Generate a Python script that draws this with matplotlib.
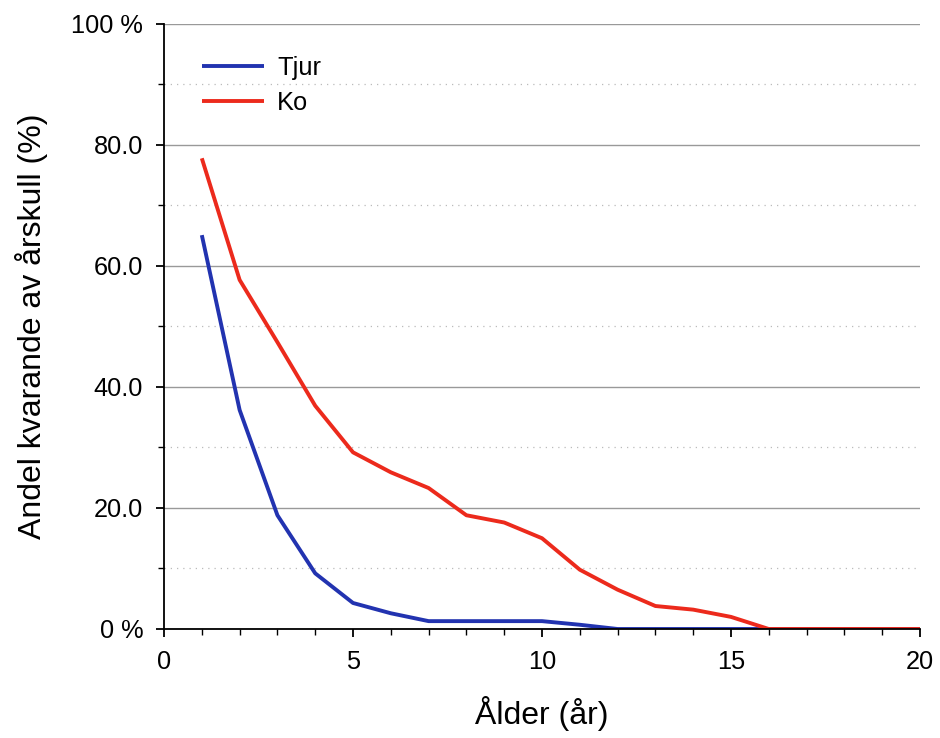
import numpy as np
import matplotlib
matplotlib.use("Agg")
import matplotlib.pyplot as plt
from matplotlib.ticker import MultipleLocator

plt.rcParams['font.family'] = ['Liberation Sans', 'DejaVu Sans']

age = [1, 2, 3, 4, 5, 6, 7, 8, 9, 10, 11, 12, 13, 14, 15, 16, 17, 18, 19, 20]
tjur = [65.1, 36.2, 18.8, 9.2, 4.3, 2.6, 1.3, 1.3, 1.3, 1.3, 0.7, 0, 0, 0, 0, 0, 0, 0, 0, 0]
ko = [77.8, 57.7, 47.4, 36.9, 29.2, 25.9, 23.3, 18.8, 17.6, 15.0, 9.8, 6.5, 3.8, 3.2, 2.0, 0, 0, 0, 0, 0]

ytick_vals = [0, 20, 40, 60, 80, 100]
ytick_labels = ["0 %", "20.0", "40.0", "60.0", "80.0", "100 %"]

fig = plt.figure(figsize=(9.4, 7.38), dpi=100)
ax = fig.add_axes([0.1745, 0.1477, 0.8042, 0.8198])

ax.plot(age, tjur, color="#2233b0", lw=2.8, label="Tjur", solid_capstyle="butt")
ax.plot(age, ko, color="#ec2a1c", lw=2.8, label="Ko", solid_capstyle="butt")

ax.set_xlim(0, 20)
ax.set_ylim(0, 100)
ax.set_yticks(ytick_vals)
ax.set_yticklabels(ytick_labels)
ax.yaxis.set_minor_locator(MultipleLocator(10))
ax.xaxis.set_major_locator(MultipleLocator(5))
ax.xaxis.set_minor_locator(MultipleLocator(1))

ax.grid(which="major", axis="y", color="#999999", lw=1.0, ls="-")
ax.grid(which="minor", axis="y", color="#bbbbbb", lw=0.9, ls=(0, (1, 4)))
ax.set_axisbelow(True)

for s in ["top", "right"]:
    ax.spines[s].set_visible(False)
ax.spines["left"].set_linewidth(1.3)
ax.spines["bottom"].set_linewidth(1.3)

ax.tick_params(which="major", direction="out", length=6, width=1.3, labelsize=18.3, pad=9)
ax.tick_params(which="minor", direction="out", length=4, width=1.0)

ax.set_xlabel("Ålder (år)", fontsize=23, labelpad=16)
ax.set_ylabel("Andel kvarande av årskull (%)", fontsize=23, labelpad=17)

ax.legend(loc="upper left", bbox_to_anchor=(0.02, 0.985), frameon=False, fontsize=18.3,
          handlelength=2.45, handletextpad=0.5, labelspacing=0.45)

fig.savefig("out.png", dpi=100)
